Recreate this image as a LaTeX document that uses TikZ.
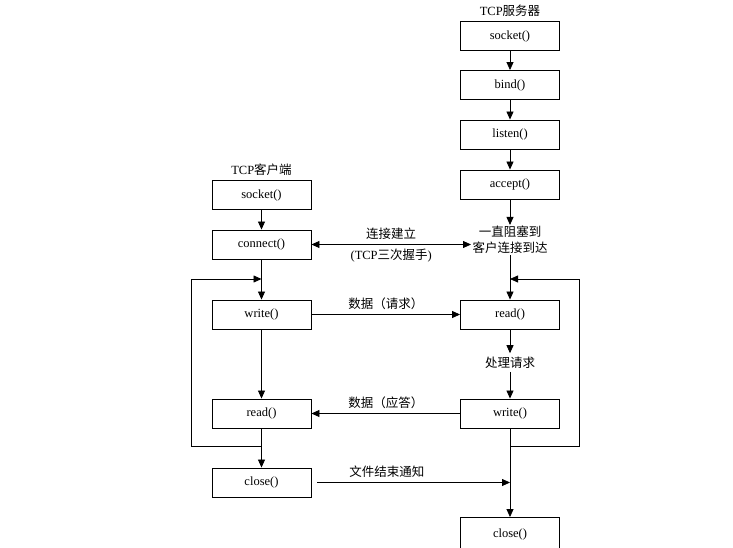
\documentclass[tikz,border=0pt]{standalone}
\usepackage{fontspec}
\setmainfont{Liberation Serif}
\newfontfamily\cjk{Noto Sans CJK SC}
\usetikzlibrary{arrows.meta}
\tikzset{
  fn/.style={draw,line width=0.9pt,minimum width=99pt,minimum height=29pt,inner sep=0pt},
  arr/.style={line width=0.8pt,-{Triangle[length=8pt,width=7pt]}},
  dbl/.style={line width=0.8pt,{Triangle[length=8pt,width=7pt]}-{Triangle[length=8pt,width=7pt]}}
}

\begin{document}
\begin{tikzpicture}[x=1pt,y=-1pt,font=\fontsize{12.5}{16}\selectfont]
    \useasboundingbox (0,0) rectangle (733,548);
    \clip (0,0) rectangle (733,548);
    % client
    \node (ctitle) at (261.5,170) {TCP{\cjk 客户端}};
    \node[fn] (csock) at (261.5,195) {socket()};
    \node[fn] (cconn) at (261.5,244.5) {connect()};
    \node[fn] (cwrite) at (261.5,314.5) {write()};
    \node[fn] (cread) at (261.5,413.5) {read()};
    \node[fn] (cclose) at (261.5,482.5) {close()};
    % server
    \node (stitle) at (510,11) {TCP{\cjk 服务器}};
    \node[fn] (ssock) at (510,36) {socket()};
    \node[fn] (sbind) at (510,85) {bind()};
    \node[fn] (slisten) at (510,134.5) {listen()};
    \node[fn] (saccept) at (510,184.5) {accept()};
    \node[align=center,inner sep=1pt] (swait) at (510,240) {{\cjk 一直阻塞到}\\{\cjk 客户连接到达}};
    \node[fn] (sread) at (510,314.5) {read()};
    \node (sproc) at (510,362.5) {\cjk 处理请求};
    \node[fn] (swrite) at (510,413.5) {write()};
    \node[fn,minimum height=33pt] (sclose) at (510,534) {close()};
    \coordinate (chand) at (471,244.5);
    \coordinate (cloop) at (261.5,279);
    \coordinate (sloop) at (510,279);
    \coordinate (sfin) at (510,482.5);

    \draw[arr] (csock) -- (cconn);\draw[arr] (cconn) -- (cwrite);
    \draw[arr] (cwrite) -- (cread);\draw[arr] (cread) -- (cclose);
    \draw[arr] (cread.south) -- ++(0,18) -| (191,279) -- (cloop);
    \draw[arr] (ssock) -- (sbind);\draw[arr] (sbind) -- (slisten);
    \draw[arr] (slisten) -- (saccept);\draw[arr] (saccept) -- (swait);
    \draw[arr] (swait) -- (sread);\draw[arr] (sread) -- (sproc);
    \draw[arr] (sproc) -- (swrite);\draw[arr] (swrite) -- (sclose);
    \draw[arr] (swrite.south) -- ++(0,18) -| (579,279) -- (sloop);

    \draw[dbl] (cconn.east) -- node[above=1pt] {\cjk 连接建立} node[below=1pt] {(TCP{\cjk 三次握手})} (chand);
    \draw[arr] (cwrite) -- node[above=1pt] {\cjk 数据（请求）} (sread);
    \draw[arr] (swrite) -- node[above=1pt] {\cjk 数据（应答）} (cread);
    \draw[arr] ([xshift=6pt]cclose.east) -- node[pos=0.36,above=1pt] {\cjk 文件结束通知} (sfin);
\end{tikzpicture}
\end{document}
